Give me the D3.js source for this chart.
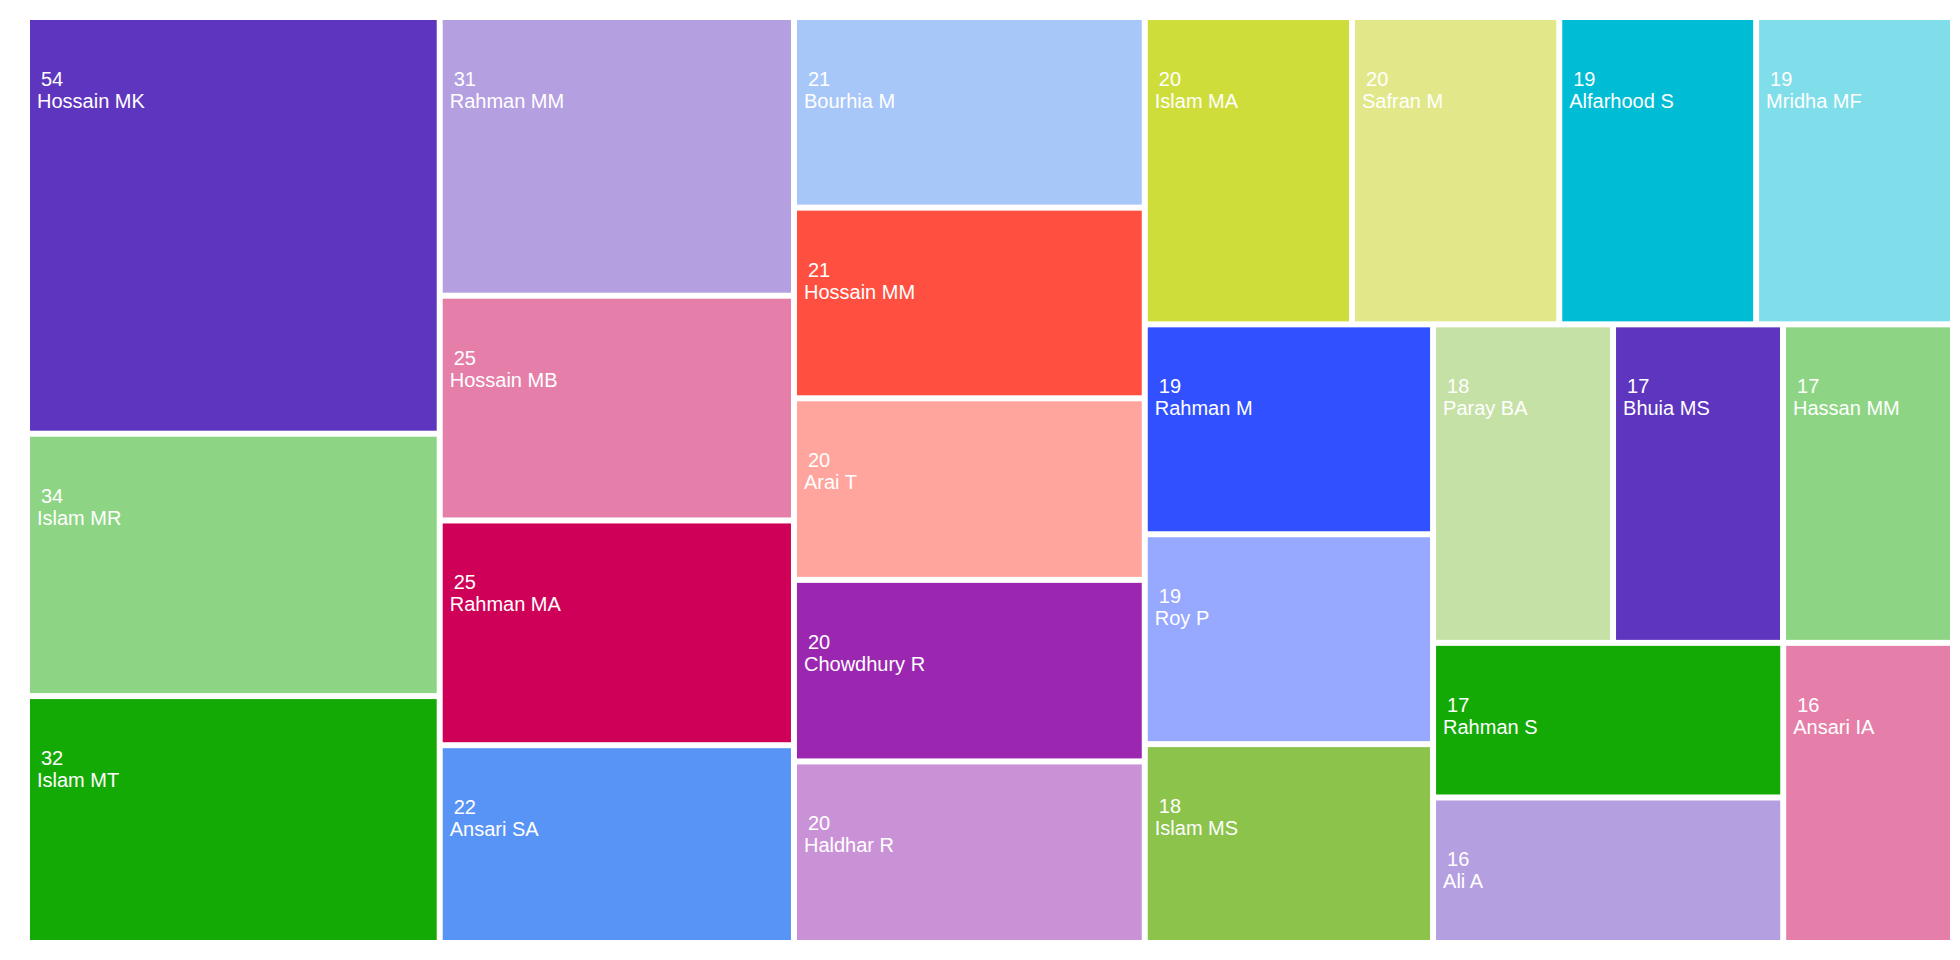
<!DOCTYPE html>
<html>
<head>
<meta charset="utf-8">
<script src="https://cdn.jsdelivr.net/npm/d3@7"></script>
<style>
  html, body { margin: 0; padding: 0; background: #ffffff; }
  svg { display: block; }
  text { font-family: "Liberation Sans", Arial, sans-serif; }
</style>
</head>
<body>
<svg id="chart" width="1960" height="960"></svg>
<script>
const authors = ["Hossain MK","Islam MR","Islam MT","Rahman MM","Hossain MB","Rahman MA","Ansari SA",
  "Bourhia M","Hossain MM","Arai T","Chowdhury R","Haldhar R","Islam MA","Safran M","Alfarhood S",
  "Mridha MF","Rahman M","Roy P","Islam MS","Paray BA","Bhuia MS","Hassan MM","Rahman S","Ali A","Ansari IA"];
const counts = [54,34,32,31,25,25,22,21,21,20,20,20,20,20,19,19,19,19,18,18,17,17,17,16,16];
const palette = ["#5E35BE","#8DD584","#14AA05","#B49FE0","#E57FAA","#CF0057","#5794F5","#A8C7F9",
  "#FF4F40","#FFA59D","#9B26B0","#CA92D6","#CFDD3A","#E2E889","#00BCD5","#7FDEEA",
  "#3150FF","#97A8FF","#8BC34B","#C6E1A6"];

const W = 1920, H = 920, marginLeft = 30, marginTop = 20;
const svg = d3.select("#chart");
const g = svg.append("g").attr("transform", `translate(${marginLeft},${marginTop})`);

const data = {name: "root", children: authors.map((a, i) => ({name: a, value: counts[i], idx: i}))};
const root = d3.hierarchy(data).sum(d => d.value || 0)
  .sort((a, b) => (b.value - a.value) || (a.data.idx - b.data.idx));

d3.treemap().tile(d3.treemapSquarify).size([W, H]).paddingInner(6).round(false)(root);

const color = d3.scaleOrdinal().domain(authors).range(palette);

const leaf = g.selectAll("g.leaf").data(root.leaves()).join("g")
  .attr("class", "leaf")
  .attr("transform", d => `translate(${d.x0},${d.y0})`);

leaf.append("rect")
  .attr("width", d => d.x1 - d.x0)
  .attr("height", d => d.y1 - d.y0)
  .attr("fill", d => color(d.data.name));

leaf.append("text")
  .attr("x", 11).attr("y", 66)
  .attr("fill", "#ffffff").attr("font-size", 20)
  .text(d => d.value);

leaf.append("text")
  .attr("x", 7).attr("y", 88)
  .attr("fill", "#ffffff").attr("font-size", 20)
  .text(d => d.data.name);
</script>
</body>
</html>
